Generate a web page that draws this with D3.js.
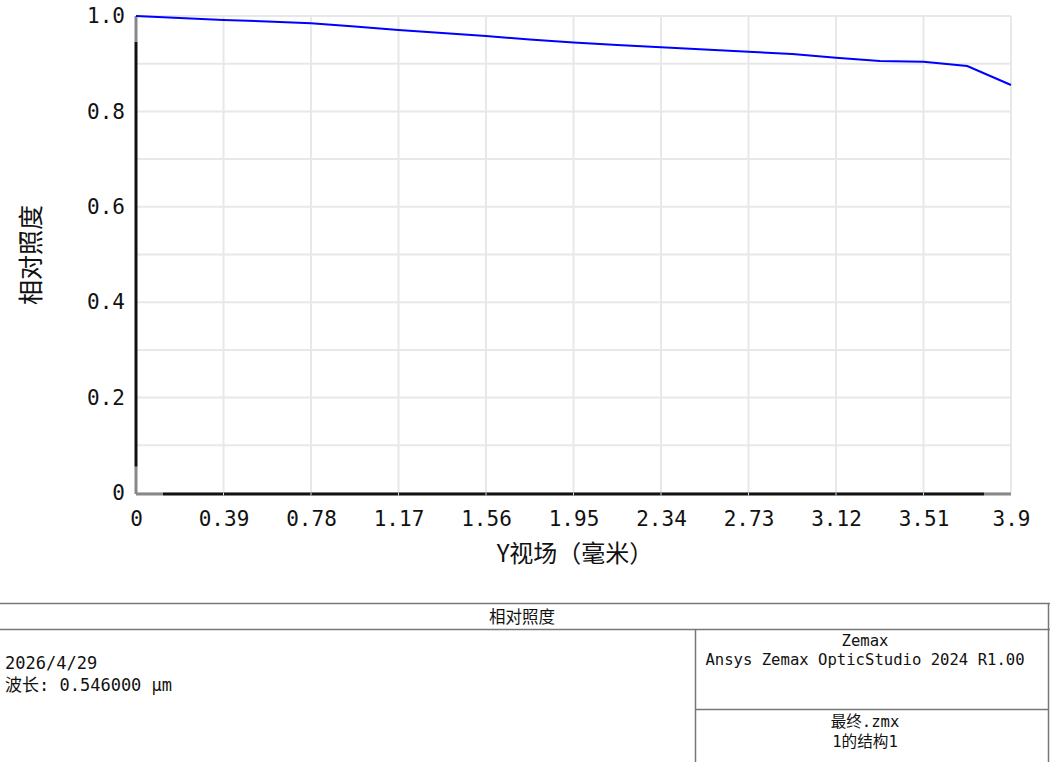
<!DOCTYPE html>
<html><head><meta charset="utf-8">
<script src="https://cdn.jsdelivr.net/npm/d3@7"></script>
<style>
html,body{margin:0;padding:0;background:#fff;}
svg{display:block;}
</style></head>
<body>
<svg id="chart" width="1050" height="762"></svg>
<script>
// ---- data ----
const fieldY = [0, 0.195, 0.39, 0.585, 0.78, 0.975, 1.17, 1.365, 1.56, 1.755, 1.95, 2.145, 2.34, 2.535, 2.73, 2.925, 3.12, 3.315, 3.51, 3.705, 3.9];
const relIllum = [1.000, 0.9958, 0.9916, 0.9885, 0.9847, 0.978, 0.9707, 0.9644, 0.958, 0.9507, 0.9444, 0.9392, 0.9344, 0.9298, 0.925, 0.9203, 0.9126, 0.9057, 0.9042, 0.8952, 0.8553];
const xTicks = [0, 0.39, 0.78, 1.17, 1.56, 1.95, 2.34, 2.73, 3.12, 3.51, 3.9];
const xTickLabels = ["0", "0.39", "0.78", "1.17", "1.56", "1.95", "2.34", "2.73", "3.12", "3.51", "3.9"];
const yGrid = [0, 0.1, 0.2, 0.3, 0.4, 0.5, 0.6, 0.7, 0.8, 0.9, 1.0];
const yTicks = [0, 0.2, 0.4, 0.6, 0.8, 1.0];
const yTickLabels = ["0", "0.2", "0.4", "0.6", "0.8", "1.0"];
const xTitle = "Y视场（毫米）";
const yTitle = "相对照度";
const footerTitle = "相对照度";
const footerLeft = ["2026/4/29", "波长: 0.546000 µm"];
const footerRightTop = ["Zemax", "Ansys Zemax OpticStudio 2024 R1.00"];
const footerRightBottom = ["最终.zmx", "1的结构1"];

const svg = d3.select("#chart");
const L = 136, R = 1011, T = 16, B = 493;
const x = d3.scaleLinear().domain([0, 3.9]).range([L, R]);
const y = d3.scaleLinear().domain([0, 1]).range([B, T]);
const mono = "'DejaVu Sans Mono', 'Liberation Mono', 'Noto Sans CJK SC', monospace";
const cjk = "'Noto Sans CJK SC', 'DejaVu Sans', sans-serif";

// grid
const grid = svg.append("g");
grid.selectAll("line.h").data(yGrid).join("line")
  .attr("x1", L).attr("x2", R).attr("y1", d => y(d)).attr("y2", d => y(d))
  .attr("stroke", "#e8e8e8").attr("stroke-width", 2);
grid.selectAll("line.v").data(xTicks).join("line")
  .attr("x1", d => x(d)).attr("x2", d => x(d)).attr("y1", T).attr("y2", B)
  .attr("stroke", "#e8e8e8").attr("stroke-width", 2);

// axes lines (Zemax style)
const ax = svg.append("g");
ax.append("line").attr("x1", L).attr("x2", L).attr("y1", y(0.946)).attr("y2", y(0.055)).attr("stroke", "#111").attr("stroke-width", 3);
ax.append("line").attr("x1", L).attr("x2", L).attr("y1", T).attr("y2", y(0.946)).attr("stroke", "#888").attr("stroke-width", 3);
ax.append("line").attr("x1", L).attr("x2", L).attr("y1", y(0.055)).attr("y2", B + 1).attr("stroke", "#888").attr("stroke-width", 3);
ax.append("line").attr("x1", x(0.12)).attr("x2", x(3.78)).attr("y1", B + 1).attr("y2", B + 1).attr("stroke", "#111").attr("stroke-width", 3);
ax.append("line").attr("x1", L).attr("x2", x(0.12)).attr("y1", B + 1).attr("y2", B + 1).attr("stroke", "#888").attr("stroke-width", 3);
ax.append("line").attr("x1", x(3.78)).attr("x2", R).attr("y1", B + 1).attr("y2", B + 1).attr("stroke", "#888").attr("stroke-width", 3);
// tiny gaps at grid positions on bottom axis
ax.selectAll("line.gap").data(xTicks.slice(1, -1)).join("line")
  .attr("x1", d => x(d)).attr("x2", d => x(d)).attr("y1", B - 0.5).attr("y2", B + 2.5)
  .attr("stroke", "#ddd").attr("stroke-width", 1);

// tick labels
const xAxis = d3.axisBottom(x).tickValues(xTicks).tickFormat((d, i) => xTickLabels[i]).tickSize(0).tickPadding(18);
const gx = svg.append("g").attr("transform", `translate(0,${B})`).call(xAxis);
gx.select(".domain").remove();
gx.selectAll("text").attr("font-family", mono).attr("font-size", 21).attr("fill", "#111");

const yAxis = d3.axisLeft(y).tickValues(yTicks).tickFormat((d, i) => yTickLabels[i]).tickSize(0).tickPadding(11);
const gy = svg.append("g").attr("transform", `translate(${L},0)`).call(yAxis);
gy.select(".domain").remove();
gy.selectAll("text").attr("font-family", mono).attr("font-size", 21).attr("fill", "#111");

// curve
const line = d3.line().x((d, i) => x(fieldY[i])).y(d => y(d));
svg.append("path").datum(relIllum).attr("d", line)
  .attr("fill", "none").attr("stroke", "#0000ff").attr("stroke-width", 2);

// titles
svg.append("text").attr("x", 575).attr("y", 562).attr("text-anchor", "middle")
  .attr("font-family", cjk).attr("font-size", 24).attr("fill", "#111").text(xTitle);
svg.append("text").attr("transform", "translate(40,255) rotate(-90)").attr("text-anchor", "middle")
  .attr("font-family", cjk).attr("font-size", 25).attr("fill", "#111").text(yTitle);

// footer
const f = svg.append("g").attr("stroke", "#777").attr("stroke-width", 1.5);
f.append("line").attr("x1", 0).attr("x2", 1050).attr("y1", 603.5).attr("y2", 603.5);
f.append("line").attr("x1", 0).attr("x2", 1050).attr("y1", 629.5).attr("y2", 629.5);
f.append("line").attr("x1", 1048.5).attr("x2", 1048.5).attr("y1", 603).attr("y2", 762);
f.append("line").attr("x1", 695.5).attr("x2", 695.5).attr("y1", 629).attr("y2", 762);
f.append("line").attr("x1", 695).attr("x2", 1049).attr("y1", 709.5).attr("y2", 709.5);

svg.append("text").attr("x", 522).attr("y", 623).attr("text-anchor", "middle")
  .attr("font-family", cjk).attr("font-size", 16.5).attr("fill", "#111").text(footerTitle);
svg.selectAll("text.fl").data(footerLeft).join("text")
  .attr("x", 5).attr("y", (d, i) => 669 + i * 22)
  .attr("font-family", mono).attr("font-size", 17).attr("fill", "#111").text(d => d);
svg.selectAll("text.frt").data(footerRightTop).join("text")
  .attr("x", 865).attr("y", (d, i) => 646 + i * 19).attr("text-anchor", "middle")
  .attr("font-family", mono).attr("font-size", 15.6).attr("fill", "#111").text(d => d);
svg.selectAll("text.frb").data(footerRightBottom).join("text")
  .attr("x", 865).attr("y", (d, i) => 727 + i * 20).attr("text-anchor", "middle")
  .attr("font-family", mono).attr("font-size", 15.6).attr("fill", "#111").text(d => d);
</script>
</body></html>
